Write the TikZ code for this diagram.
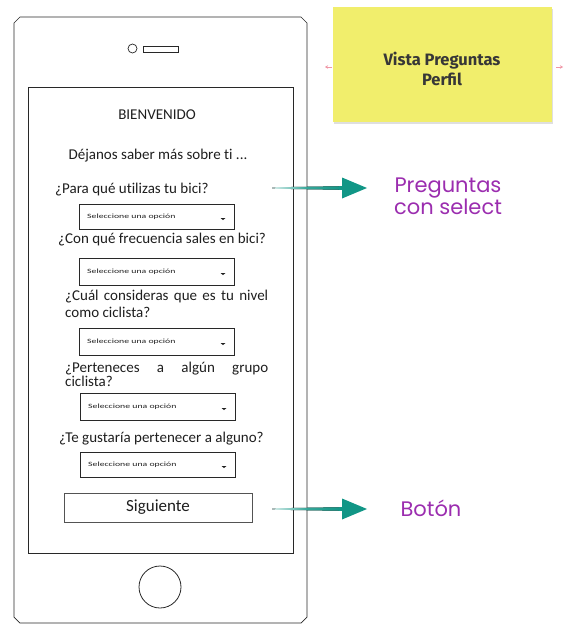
\documentclass[tikz,border=0pt]{standalone}
\usepackage{fontspec}
\setmainfont{Carlito}[Ligatures=NoCommon]
\newfontfamily\stickyfont{Fira Sans}
\newfontfamily\handfont{Poppins}
\newfontfamily\selfont{Carlito}[FakeStretch=1.5,Ligatures=NoCommon]
\usetikzlibrary{calc,shadows,arrows.meta}
\hyphenpenalty=10000
\exhyphenpenalty=10000
\definecolor{phoneline}{RGB}{40,40,40}
\definecolor{arrowteal}{RGB}{17,150,134}
\definecolor{labelpurple}{RGB}{155,45,175}
\definecolor{stickyyellow}{RGB}{241,238,108}
\definecolor{stickytext}{RGB}{55,55,55}
\definecolor{pinkarrow}{RGB}{240,150,165}
\definecolor{screentext}{RGB}{30,30,30}
\begin{document}
\begin{tikzpicture}[x=1pt,y=-1pt,
  phoneframe/.style={draw=phoneline,line width=0.7pt},
  screenbox/.style={draw=phoneline,line width=0.8pt,minimum width=265pt,minimum height=466pt,inner sep=0pt},
  selectbox/.style={draw=phoneline,line width=1pt,minimum width=155pt,inner sep=0pt,anchor=north west},
  seltext/.style={font=\selfont\fontsize{6.5}{7}\selectfont,text=screentext,inner sep=0pt,anchor=west},
  qtext/.style={font=\fontsize{15}{16}\selectfont,text=screentext,inner sep=0pt,anchor=west},
  buttonbox/.style={draw=phoneline!80,line width=1pt,minimum width=188pt,minimum height=29pt,inner sep=0pt,font=\fontsize{17}{19}\selectfont,text=screentext},
  sticky/.style={fill=stickyyellow,minimum width=219pt,minimum height=115pt,inner sep=0pt,
     drop shadow={shadow xshift=1pt,shadow yshift=-2pt,opacity=0.25}},
  stickylabel/.style={align=center,inner sep=0pt,font=\stickyfont\bfseries\fontsize{16.5}{20}\selectfont,text=stickytext},
  handlabel/.style={font=\handfont\fontsize{21}{22}\selectfont,text=labelpurple,align=center,inner sep=0pt},
  tinyarrow/.style={draw=pinkarrow,line width=0.6pt,-{Stealth[length=3pt,width=3.5pt]}}
]
\useasboundingbox (0,0) rectangle (585,637);

% phone body
\draw[phoneframe] (14,23) -- (20,17) -- (301,17) -- (307,23) -- (307,617) -- (301,623) -- (20,623) -- (14,617) -- cycle;
\draw[phoneframe] (132.5,48.5) circle (4.5);
\draw[phoneframe] (143,46.5) rectangle (178,52);
\node[draw=phoneline,line width=0.8pt,circle,minimum size=42pt,inner sep=0pt] (home) at (160,587) {};
\node[screenbox] (screen) at (160.5,320) {};

% texts
\node[font=\fontsize{15}{16}\selectfont,text=screentext,inner sep=0pt] (title) at (157,115) {BIENVENIDO};
\node[font=\fontsize{15}{16}\selectfont,text=screentext,inner sep=0pt] (intro) at (158,156) {Déjanos saber más sobre ti ...};
\node[qtext] (q1) at (55,190) {¿Para qué utilizas tu bici?};
\node[qtext] (q2) at (58,240) {¿Con qué frecuencia sales en bici?};
\node[qtext,anchor=north west,text width=203pt,align=justify,font=\fontsize{15}{16.5}\selectfont] (q3) at (65,290) {¿Cuál consideras que es tu nivel como ciclista?};
\node[qtext,anchor=north west,text width=203pt,align=justify,font=\fontsize{15}{14}\selectfont] (q4) at (65,362) {¿Perteneces a algún grupo ciclista?};
\node[qtext] (q5) at (59,439) {¿Te gustaría pertenecer a alguno?};

% selects
\foreach \n/\xl/\yt/\h in {s1/79/204/25,s2/79/258/27,s3/79/328/27,s4/80/393/27,s5/80/452/25}{
  \node[selectbox,minimum height=\h pt] (\n) at (\xl,\yt) {};
  \node[seltext] at ($(\n.west)+(8,0)$) {Seleccione una opción};
  \fill[screentext] ($(\n.east)+(-14.5,1)$) -- ($(\n.east)+(-9.5,1)$) -- ($(\n.east)+(-12,3)$) -- cycle;
}

% button
\node[buttonbox] (next) at (158,507.5) {Siguiente};

% sticky note
\node[sticky] (note) at (442.5,64.5) {};
\node[stickylabel] (notetext) at (442,69) {Vista Preguntas\\Perfil};
\coordinate (pl1) at (332,67); \coordinate (pl2) at (325,67);
\coordinate (pr1) at (556,67); \coordinate (pr2) at (563,67);
\draw[tinyarrow] (pl1) -- (pl2);
\draw[tinyarrow] (pr1) -- (pr2);

% labels
\node[handlabel] (lblq) at (448,196) {Preguntas\\con select};
\node[handlabel] (lblb) at (431,508) {Botón};

% arrows
\coordinate (qtail) at (272,188); \coordinate (qtip) at (367,188);
\coordinate (btail) at (272,509); \coordinate (btip) at (367,509);
\foreach \t/\h in {qtail/qtip,btail/btip}{
  \fill[left color=arrowteal!15,right color=arrowteal,middle color=arrowteal!85] ($(\t)+(0,-0.7)$) -- ($(\h)+(-25,-1.8)$) -- ($(\h)+(-25,1.8)$) -- ($(\t)+(0,0.7)$) -- cycle;
  \fill[arrowteal] (\h) -- ($(\h)+(-25,-10.5)$) -- ($(\h)+(-25,10.5)$) -- cycle;
}
\end{tikzpicture}
\end{document}
